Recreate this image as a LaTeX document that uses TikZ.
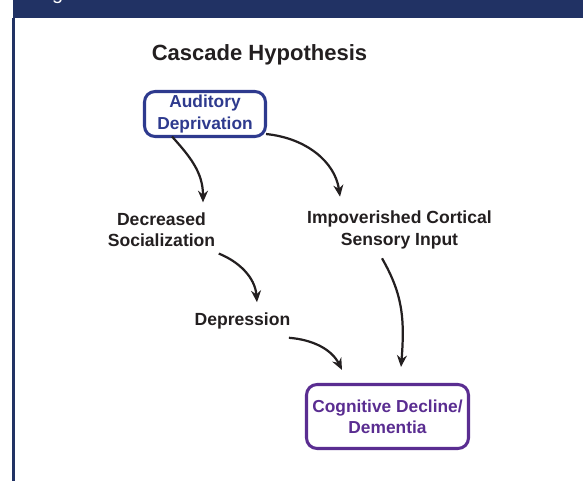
\documentclass[tikz,border=0pt]{standalone}
\usepackage{fontspec}
\setmainfont{Liberation Sans}
\usetikzlibrary{arrows.meta,calc,positioning}
\definecolor{bannerblue}{HTML}{213264}
\definecolor{audblue}{HTML}{2E3A8E}
\definecolor{cogpurple}{HTML}{5A2D91}
\definecolor{inkgray}{HTML}{231F20}
\tikzstyle{stage} = [rectangle, draw, line width=2.6pt, rounded corners=9pt,
fill=white, align=center, inner sep=0pt, font=\fontsize{14.8}{18}\selectfont\bfseries]
\tikzstyle{factor} = [align=center, text=inkgray, inner sep=2pt,
font=\fontsize{15}{18}\selectfont\bfseries]
\tikzstyle{line} = [draw, inkgray, line width=1.9pt, -{Stealth[length=10pt, width=8.5pt]}]

\begin{document}
\begin{tikzpicture}[x=0.03cm, y=-0.03cm]
	\useasboundingbox (0,0) rectangle (583,481);
	% banner and margin rule
	\fill [bannerblue] (13,0) rectangle (583,18.5);
	\begin{scope}
		\clip (13,0) rectangle (583,18.5);
		\node [anchor=base west, inner sep=0pt, text=white, font=\fontsize{17}{20}\selectfont] (bannerg) at (52,-0.5) {g};
	\end{scope}
	\draw [bannerblue, line width=2.2pt] (13.5,18) -- (13.5,481);

	% Place nodes
	\node [text=inkgray, font=\fontsize{18.8}{22}\selectfont\bfseries] (title) at (259.5,55) {Cascade Hypothesis};
	\node [stage, draw=audblue, text=audblue, minimum width=3.63cm, minimum height=1.35cm] (audit) at (205,114) {Auditory\\Deprivation};
	\node [factor] (social) at (161.5,230) {Decreased\\Socialization};
	\node [factor, right of=social, node distance=7.14cm] (impov) {Impoverished Cortical\\Sensory Input};
	\node [factor] (depress) at (242.5,321) {Depression};
	\node [stage, draw=cogpurple, text=cogpurple, minimum width=4.86cm, minimum height=1.92cm] (cog) at (387.5,416.5) {Cognitive Decline/\\Dementia};

	\path [line] ($(audit.south)+(-33,-1.5)$) .. controls +(18,20) and +(0,-30) .. ($(social.north)+(41.5,-8)$);
	\path [line] ($(audit.south east)+(-1,-4)$) .. controls +(40,4) and +(-5,-35) .. ($(impov.north)+(-59.5,-12)$);
	\path [line] ($(social.south east)+(1,4)$) .. controls +(20,8) and +(-2,-25) .. ($(depress.north)+(14.5,-8)$);
	\path [line] ($(depress.south east)+(-4,6)$) .. controls +(25,2) and +(-10,-20) .. ($(cog.north)+(-45.5,-13)$);
	\path [line] ($(impov.south)+(-17.5,7)$) .. controls +(20,35) and +(4,-50) .. ($(cog.north)+(13.5,-16)$);
\end{tikzpicture}
\end{document}
